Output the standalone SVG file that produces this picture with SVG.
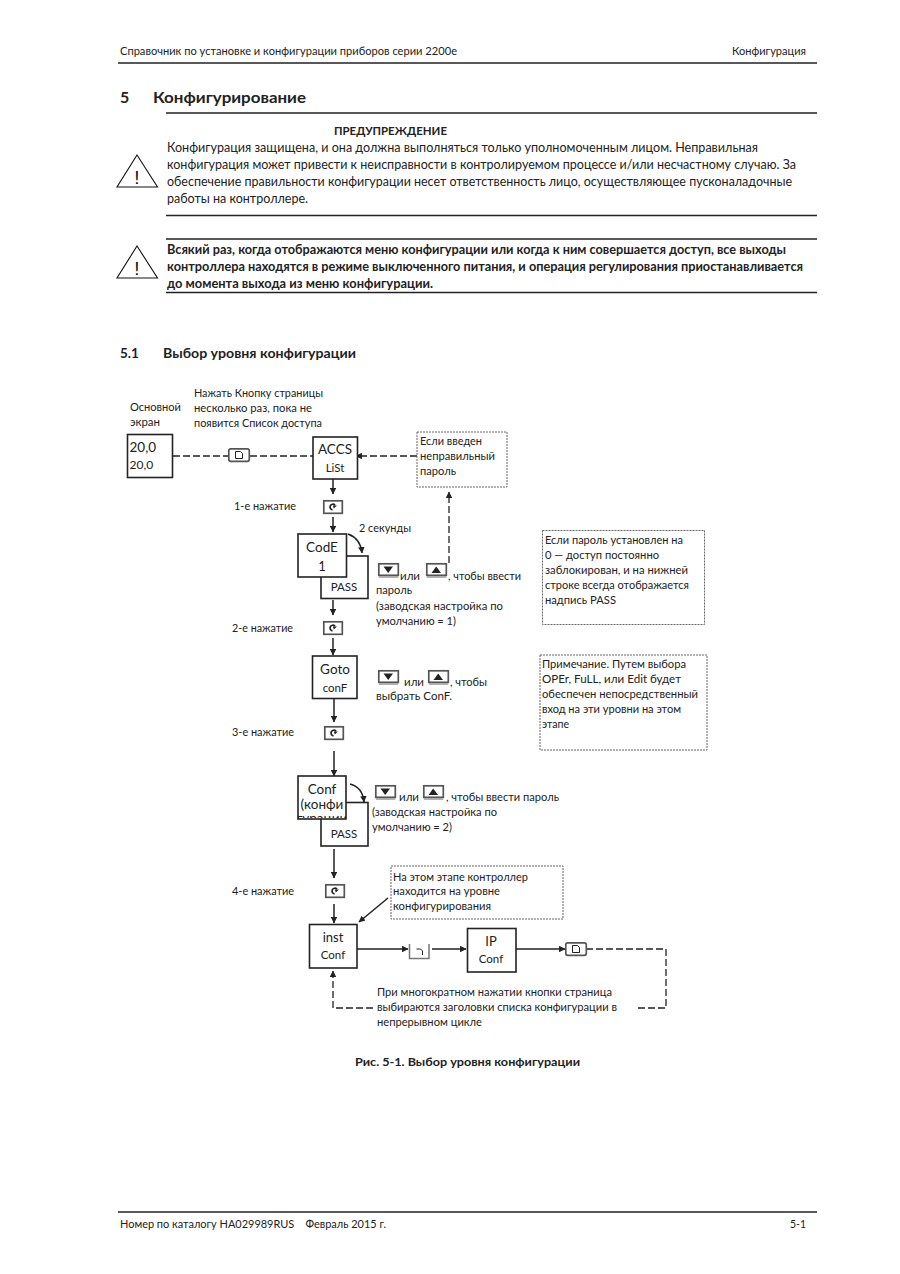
<svg xmlns="http://www.w3.org/2000/svg" width="900" height="1274" viewBox="0 0 900 1274">
<style>
text{font-family:Lato,"Open Sans","Noto Sans",sans-serif;font-size:12px;fill:#222}
.b{font-weight:700}
.s{font-size:11.500px}
.m{text-anchor:middle}
.rule{stroke:#222;stroke-width:1.400;fill:none}
.box{fill:#fff;stroke:#222;stroke-width:1.600}
.note{fill:#fff;stroke:#666;stroke-width:1;stroke-dasharray:2 1}
.solid{fill:none;stroke:#222;stroke-width:1.500}
.arr{marker-end:url(#ah)}
.dash{fill:none;stroke:#222;stroke-width:1.300;stroke-dasharray:7 3}
.tri{fill:none;stroke:#111;stroke-width:1.100}
.bang{font-family:"Liberation Sans",sans-serif;font-size:19px;fill:#111}
.kf{fill:#fff;stroke:#555;stroke-width:1.700}
.ks{fill:none;stroke:#999;stroke-width:1.500}
.kb{fill:#222;stroke:none}
.kl{fill:none;stroke:#222;stroke-width:1}
</style>
<defs>
<marker id="ah" viewBox="0 0 6 6" refX="5.500" refY="3" markerWidth="6.500" markerHeight="6.500" markerUnits="userSpaceOnUse" orient="auto"><path d="M0 0L6 3L0 6Z" fill="#222"/></marker>
<clipPath id="confclip"><rect x="298" y="776" width="48" height="42"/></clipPath>
<g id="kpage"><rect class="kf" x="0.800" y="0.800" width="20.500" height="12.500" rx="2"/><path class="kl" d="M7.500 3.500H12.500L14.500 5.500V10.500H7.500Z"/></g>
<g id="kscroll"><rect class="kf" x="0.800" y="0.800" width="18.500" height="12.500"/><path d="M12 5.200A2.800 2.800 0 1 0 9.500 9.800" fill="none" stroke="#222" stroke-width="1.700"/><path class="kb" d="M9.800 5.500H14L10.800 8.500Z"/></g>
<g id="kdown"><rect class="kf" x="0.800" y="0.800" width="19.500" height="11.500"/><path class="ks" d="M0.800 14H20.300"/><path class="kb" d="M5.500 3.500H15L10.200 10Z"/></g>
<g id="kup"><rect class="kf" x="0.800" y="0.800" width="19.500" height="11.500"/><path class="ks" d="M0.800 14H20.300"/><path class="kb" d="M5.500 10H15L10.200 3.500Z"/></g>
</defs>
<rect width="900" height="1274" fill="#fff"/>
<g id="page-text">
<text x="120" y="55" textLength="337" lengthAdjust="spacingAndGlyphs">Справочник по установке и конфигурации приборов серии 2200e</text>
<text x="732" y="55" textLength="74" lengthAdjust="spacingAndGlyphs">Конфигурация</text>
<path class="rule" d="M118 63H817"/>
<text x="120" y="103" class="b" style="font-size:16px">5</text>
<text x="153" y="103" class="b" style="font-size:16px" textLength="153" lengthAdjust="spacingAndGlyphs">Конфигурирование</text>
<path class="rule" d="M166 113H817"/>
<text x="334" y="135" class="b" textLength="113" lengthAdjust="spacingAndGlyphs">ПРЕДУПРЕЖДЕНИЕ</text>
<text x="167" y="152" style="font-size:13px" textLength="591" lengthAdjust="spacingAndGlyphs">Конфигурация защищена, и она должна выполняться только уполномоченным лицом. Неправильная</text>
<text x="167" y="169" style="font-size:13px" textLength="629" lengthAdjust="spacingAndGlyphs">конфигурация может привести к неисправности в контролируемом процессе и/или несчастному случаю. За</text>
<text x="167" y="186" style="font-size:13px" textLength="625" lengthAdjust="spacingAndGlyphs">обеспечение правильности конфигурации несет ответственность лицо, осуществляющее пусконаладочные</text>
<text x="167" y="203" style="font-size:13px" textLength="141" lengthAdjust="spacingAndGlyphs">работы на контроллере.</text>
<path class="rule" d="M166 215.500H817M166 239H817M166 292.500H817"/>
<path class="tri" d="M137 155L157.500 187H117Z"/>
<text class="bang m" x="137" y="184">!</text>
<path class="tri" d="M137 246L157.500 278H117Z"/>
<text class="bang m" x="137" y="275">!</text>
<text x="167" y="254" class="b" style="font-size:12.500px" textLength="619" lengthAdjust="spacingAndGlyphs">Всякий раз, когда отображаются меню конфигурации или когда к ним совершается доступ, все выходы</text>
<text x="167" y="271" class="b" style="font-size:12.500px" textLength="636" lengthAdjust="spacingAndGlyphs">контроллера находятся в режиме выключенного питания, и операция регулирования приостанавливается</text>
<text x="167" y="288" class="b" style="font-size:12.500px" textLength="266" lengthAdjust="spacingAndGlyphs">до момента выхода из меню конфигурации.</text>
<text x="120" y="358" class="b" style="font-size:13.500px">5.1</text>
<text x="163" y="358" class="b" style="font-size:13.500px" textLength="193" lengthAdjust="spacingAndGlyphs">Выбор уровня конфигурации</text>
<text x="355" y="1066" class="b" textLength="225" lengthAdjust="spacingAndGlyphs">Рис. 5-1. Выбор уровня конфигурации</text>
<path class="rule" d="M118 1212H817"/>
<text x="120" y="1228" textLength="266" lengthAdjust="spacingAndGlyphs" xml:space="preserve">Номер по каталогу HA029989RUS    Февраль 2015 г.</text>
<text x="790" y="1228" textLength="16" lengthAdjust="spacingAndGlyphs">5-1</text>
</g>
<g id="connectors">
<path class="dash" d="M173 456H228M250 456H313"/>
<path class="dash arr" d="M417 456H356"/>
<path class="solid arr" d="M333 479V494"/>
<path class="solid arr" d="M333 517V532"/>
<path class="solid arr" d="M348 534C356 537 361 543 362 553"/>
<path class="solid arr" d="M333 600V615"/>
<path class="solid arr" d="M333 638V655"/>
<path class="solid arr" d="M334 698V722"/>
<path class="solid arr" d="M334 751V776"/>
<path class="solid arr" d="M350 784C358 786 363 792 364 802"/>
<path class="solid arr" d="M334 849V878"/>
<path class="solid arr" d="M334 904V923"/>
<path class="solid arr" d="M388 898L359 922"/>
<path class="solid arr" d="M357 949H408"/>
<path class="solid arr" d="M432 949H466"/>
<path class="solid arr" d="M516 949H565"/>
<path class="dash" d="M586 949H666V1008H638"/>
<path class="dash arr" d="M373 1008H333V971"/>
<path class="dash arr" d="M449 563V492"/>
</g>
<g id="main-screen">
<text x="130" y="411" textLength="51" lengthAdjust="spacingAndGlyphs">Основной</text>
<text x="130" y="426" textLength="30" lengthAdjust="spacingAndGlyphs">экран</text>
<rect class="box" x="127.500" y="434.500" width="45" height="43"/>
<text x="129.500" y="452" style="font-size:13.500px">20,0</text>
<text x="129.500" y="468.500" style="font-size:12px">20,0</text>
</g>
<g id="page-hint">
<text x="194" y="397" textLength="129" lengthAdjust="spacingAndGlyphs">Нажать Кнопку страницы</text>
<text x="194" y="412" textLength="118" lengthAdjust="spacingAndGlyphs">несколько раз, пока не</text>
<text x="194" y="427" textLength="128" lengthAdjust="spacingAndGlyphs">появится Список доступа</text>
</g>
<g id="key-page-1"><use href="#kpage" x="228" y="448"/></g>
<g id="accs">
<rect class="box" x="313" y="437" width="44.500" height="42"/>
<text x="335" y="454" class="m" style="font-size:13.500px">ACCS</text>
<text x="335" y="472" class="m s">LiSt</text>
</g>
<g id="note-wrong-password">
<rect class="note" x="417" y="432" width="90" height="55"/>
<text x="420" y="445" textLength="62" lengthAdjust="spacingAndGlyphs">Если введен</text>
<text x="420" y="460" textLength="75" lengthAdjust="spacingAndGlyphs">неправильный</text>
<text x="420" y="475" textLength="36" lengthAdjust="spacingAndGlyphs">пароль</text>
</g>
<g id="press-1"><text x="234" y="510" textLength="62" lengthAdjust="spacingAndGlyphs">1-е нажатие</text><use href="#kscroll" x="323" y="500"/></g>
<g id="pass-1">
<rect class="box" x="321" y="556" width="47" height="42.500"/>
<text x="344" y="591" class="m s">PASS</text>
</g>
<g id="code">
<rect class="box" x="298" y="534" width="48.500" height="43"/>
<text x="322" y="552" class="m" style="font-size:13.500px">CodE</text>
<text x="322" y="571" class="m" style="font-size:13px">1</text>
</g>
<g id="label-2s"><text x="359" y="532" textLength="52" lengthAdjust="spacingAndGlyphs">2 секунды</text></g>
<g id="hint-code">
<use href="#kdown" x="378" y="563"/>
<text x="400" y="580" textLength="20" lengthAdjust="spacingAndGlyphs">или</text>
<use href="#kup" x="426" y="563"/>
<text x="448" y="580" textLength="73" lengthAdjust="spacingAndGlyphs">, чтобы ввести</text>
<text x="376" y="594" textLength="36" lengthAdjust="spacingAndGlyphs">пароль</text>
<text x="376" y="610" textLength="127" lengthAdjust="spacingAndGlyphs">(заводская настройка по</text>
<text x="376" y="625" textLength="80" lengthAdjust="spacingAndGlyphs">умолчанию = 1)</text>
</g>
<g id="note-zero">
<rect class="note" x="542.500" y="530.500" width="162" height="94"/>
<text x="545" y="544" textLength="138" lengthAdjust="spacingAndGlyphs">Если пароль установлен на</text>
<text x="545" y="559" textLength="114" lengthAdjust="spacingAndGlyphs">0 — доступ постоянно</text>
<text x="545" y="574" textLength="143" lengthAdjust="spacingAndGlyphs">заблокирован, и на нижней</text>
<text x="545" y="589" textLength="144" lengthAdjust="spacingAndGlyphs">строке всегда отображается</text>
<text x="545" y="604" textLength="71" lengthAdjust="spacingAndGlyphs">надпись PASS</text>
</g>
<g id="press-2"><text x="232" y="632" textLength="61" lengthAdjust="spacingAndGlyphs">2-е нажатие</text><use href="#kscroll" x="323" y="621"/></g>
<g id="goto">
<rect class="box" x="312.500" y="656" width="44.500" height="42.500"/>
<text x="335" y="674" class="m" style="font-size:13.500px">Goto</text>
<text x="335" y="692" class="m s">conF</text>
</g>
<g id="hint-goto">
<use href="#kdown" x="378" y="670"/>
<text x="404" y="686" textLength="20" lengthAdjust="spacingAndGlyphs">или</text>
<use href="#kup" x="428" y="670"/>
<text x="450" y="686" textLength="37" lengthAdjust="spacingAndGlyphs">, чтобы</text>
<text x="376" y="700" textLength="76" lengthAdjust="spacingAndGlyphs">выбрать ConF.</text>
</g>
<g id="note-levels">
<rect class="note" x="540" y="655" width="167" height="95"/>
<text x="542" y="668" textLength="144" lengthAdjust="spacingAndGlyphs">Примечание. Путем выбора</text>
<text x="542" y="683" textLength="139" lengthAdjust="spacingAndGlyphs">OPEr, FuLL, или Edit будет</text>
<text x="542" y="698" textLength="156" lengthAdjust="spacingAndGlyphs">обеспечен непосредственный</text>
<text x="542" y="713" textLength="139" lengthAdjust="spacingAndGlyphs">вход на эти уровни на этом</text>
<text x="542" y="728" textLength="27" lengthAdjust="spacingAndGlyphs">этапе</text>
</g>
<g id="press-3"><text x="232" y="736" textLength="62" lengthAdjust="spacingAndGlyphs">3-е нажатие</text><use href="#kscroll" x="324" y="726"/></g>
<g id="pass-2">
<rect class="box" x="321" y="802.500" width="47" height="43.500"/>
<text x="344" y="838" class="m s">PASS</text>
</g>
<g id="conf">
<rect class="box" x="298" y="776" width="48" height="43"/>
<text x="322" y="794" class="m" style="font-size:13.500px">Conf</text>
<text x="322" y="809" class="m" style="font-size:13.500px">(конфи</text>
<g clip-path="url(#confclip)"><text x="322" y="822.500" class="m" style="font-size:13.500px">гурации</text></g>
</g>
<g id="hint-conf">
<use href="#kdown" x="375" y="785"/>
<text x="399" y="801" textLength="20" lengthAdjust="spacingAndGlyphs">или</text>
<use href="#kup" x="423" y="785"/>
<text x="446" y="801" textLength="113" lengthAdjust="spacingAndGlyphs">, чтобы ввести пароль</text>
<text x="372" y="816" textLength="125" lengthAdjust="spacingAndGlyphs">(заводская настройка по</text>
<text x="372" y="831" textLength="80" lengthAdjust="spacingAndGlyphs">умолчанию = 2)</text>
</g>
<g id="press-4"><text x="232" y="895" textLength="62" lengthAdjust="spacingAndGlyphs">4-е нажатие</text><use href="#kscroll" x="325" y="884"/></g>
<g id="note-level">
<rect class="note" x="391" y="866" width="172" height="53"/>
<text x="393" y="881" textLength="135" lengthAdjust="spacingAndGlyphs">На этом этапе контроллер</text>
<text x="393" y="895" textLength="107" lengthAdjust="spacingAndGlyphs">находится на уровне</text>
<text x="393" y="910" textLength="98" lengthAdjust="spacingAndGlyphs">конфигурирования</text>
</g>
<g id="inst">
<rect class="box" x="309.500" y="924.500" width="47.500" height="43.500"/>
<text x="333" y="942" class="m" style="font-size:13px">inst</text>
<text x="333" y="959" class="m s">Conf</text>
</g>
<g id="key-enter">
<path d="M409.500 944V958.500H429V944" fill="none" stroke="#777" stroke-width="1.500"/>
<path class="kl" d="M416.500 949H420.500L422.500 951V955"/>
</g>
<g id="ip">
<rect class="box" x="467.500" y="928.500" width="48.500" height="43.500"/>
<text x="491" y="946" class="m" style="font-size:13px">IP</text>
<text x="491" y="963" class="m s">Conf</text>
</g>
<g id="key-page-2"><use href="#kpage" x="565" y="942"/></g>
<g id="loop-label">
<text x="377" y="996" textLength="235" lengthAdjust="spacingAndGlyphs">При многократном нажатии кнопки страница</text>
<text x="377" y="1011" textLength="240" lengthAdjust="spacingAndGlyphs">выбираются заголовки списка конфигурации в</text>
<text x="377" y="1026" textLength="105" lengthAdjust="spacingAndGlyphs">непрерывном цикле</text>
</g>
</svg>
